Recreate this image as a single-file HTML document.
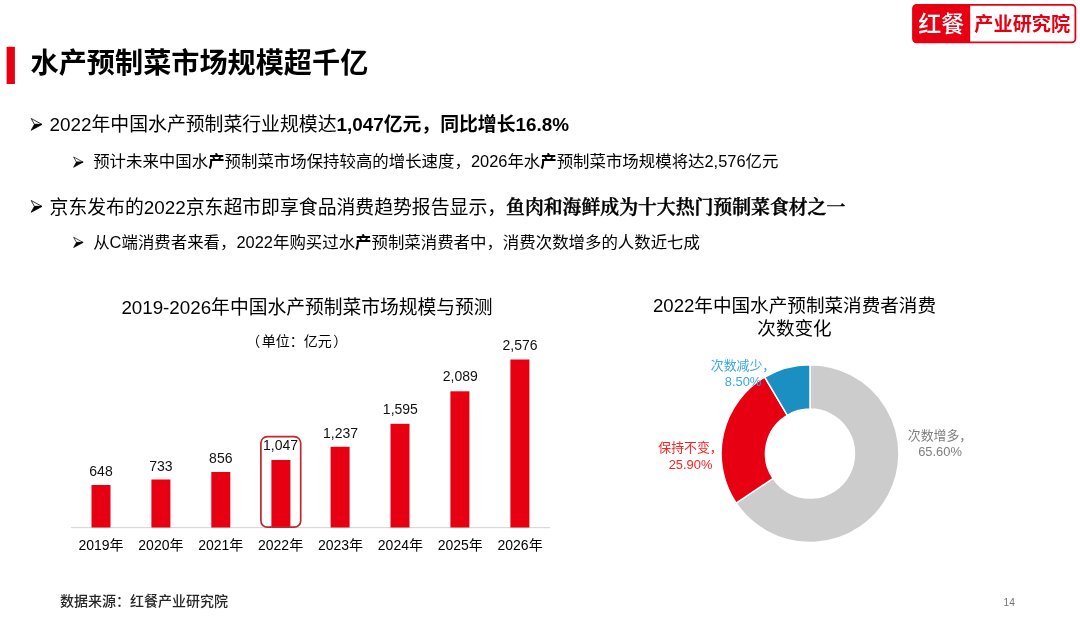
<!DOCTYPE html>
<html lang="zh-CN">
<head>
<meta charset="utf-8">
<title>水产预制菜市场规模超千亿</title>
<style>
html,body{margin:0;padding:0;background:#fff;}
body{width:1080px;height:623px;position:relative;overflow:hidden;font-family:"Liberation Sans","Noto Sans CJK SC",sans-serif;color:#000;}
.t{position:absolute;white-space:nowrap;line-height:1;}
.b{font-weight:bold;}
.serif{font-family:"Liberation Sans","Noto Serif CJK SC",serif;font-weight:600;-webkit-text-stroke:0.45px #000;}
#title{left:30.6px;top:49.5px;font-size:28.15px;font-weight:bold;}
.l1{font-size:18.85px;left:49.6px;}
.l2{font-size:16.43px;left:93.2px;}
.arr{position:absolute;}
.ct{font-size:18.85px;text-align:center;}
.vl{font-size:14px;text-align:center;width:60px;color:#111;}
.yl{font-size:14px;text-align:center;width:60px;top:538px;color:#000;}
.pl{font-size:12.9px;text-align:center;line-height:15.5px;}
</style>
</head>
<body>
<!-- logo -->
<svg class="arr" style="left:0;top:0" width="1080" height="623" viewBox="0 0 1080 623">
  <!-- logo box -->
  <rect x="913" y="4.9" width="162.4" height="37.5" rx="3.6" ry="3.6" fill="#fff" stroke="#e60012" stroke-width="1.8"/>
  <path d="M916.6 4.9 H970.2 V42.4 H916.6 a3.6 3.6 0 0 1 -3.6 -3.6 V8.5 a3.6 3.6 0 0 1 3.6 -3.6 Z" fill="#e60012"/>
  <!-- title bar -->
  <rect x="6.6" y="46.8" width="8.3" height="37.2" fill="#e60012"/>
  <!-- axis -->
  <rect x="71" y="527" width="479" height="1.2" fill="#d9d9d9"/>
  <!-- bars -->
  <g fill="#e60012">
    <rect x="91.5" y="485" width="19" height="42.5"/>
    <rect x="151.4" y="479.5" width="19" height="48"/>
    <rect x="211.3" y="472" width="19" height="55.5"/>
    <rect x="271.4" y="460" width="19" height="67.5"/>
    <rect x="330.6" y="446.8" width="19" height="80.7"/>
    <rect x="390.5" y="423.8" width="19" height="103.7"/>
    <rect x="450.4" y="391.3" width="19" height="136.2"/>
    <rect x="510.4" y="359.5" width="19" height="168"/>
  </g>
  <rect x="260.9" y="436.6" width="39.8" height="90.6" rx="6.5" ry="6.5" fill="none" stroke="#c1272d" stroke-width="1.7"/>
  <!-- bullet arrows -->
  <g transform="translate(30.8 118.1) scale(1)">
    <path d="M0.4 0.4 L11.2 6.3 L3.6 6.3 Z" fill="#fff" stroke="#000" stroke-width="0.8" stroke-linejoin="miter"/>
    <path d="M3.6 6.3 L11.2 6.3 L0.4 12.2 Z" fill="#000" stroke="#000" stroke-width="0.8" stroke-linejoin="miter"/>
  </g>
  <g transform="translate(30.8 200.1) scale(1)">
    <path d="M0.4 0.4 L11.2 6.3 L3.6 6.3 Z" fill="#fff" stroke="#000" stroke-width="0.8" stroke-linejoin="miter"/>
    <path d="M3.6 6.3 L11.2 6.3 L0.4 12.2 Z" fill="#000" stroke="#000" stroke-width="0.8" stroke-linejoin="miter"/>
  </g>
  <g transform="translate(73.3 156.6) scale(0.875)">
    <path d="M0.4 0.4 L11.2 6.3 L3.6 6.3 Z" fill="#fff" stroke="#000" stroke-width="0.8" stroke-linejoin="miter"/>
    <path d="M3.6 6.3 L11.2 6.3 L0.4 12.2 Z" fill="#000" stroke="#000" stroke-width="0.8" stroke-linejoin="miter"/>
  </g>
  <g transform="translate(73.3 236.9) scale(0.875)">
    <path d="M0.4 0.4 L11.2 6.3 L3.6 6.3 Z" fill="#fff" stroke="#000" stroke-width="0.8" stroke-linejoin="miter"/>
    <path d="M3.6 6.3 L11.2 6.3 L0.4 12.2 Z" fill="#000" stroke="#000" stroke-width="0.8" stroke-linejoin="miter"/>
  </g>
  <!-- donut -->
  <g id="donut">
    <path d="M810.00 364.65 A88.95 88.95 0 1 1 736.12 503.13 L773.04 478.38 A44.5 44.5 0 1 0 810.00 409.10 Z" fill="#cccccc" stroke="#fff" stroke-width="1.5" stroke-linejoin="round"/>
    <path d="M736.12 503.13 A88.95 88.95 0 0 1 764.72 377.04 L787.35 415.30 A44.5 44.5 0 0 0 773.04 478.38 Z" fill="#e60012" stroke="#fff" stroke-width="1.5" stroke-linejoin="round"/>
    <path d="M764.72 377.04 A88.95 88.95 0 0 1 810.00 364.65 L810.00 409.10 A44.5 44.5 0 0 0 787.35 415.30 Z" fill="#1b8ec2" stroke="#fff" stroke-width="1.5" stroke-linejoin="round"/>
  </g>
</svg>

<div class="t" id="logo1" style="left:918.3px;top:13.3px;font-size:23px;font-weight:500;color:#fff;">红餐</div>
<div class="t" id="logo2" style="left:974.3px;top:15px;font-size:19.2px;font-weight:bold;color:#e60012;">产业研究院</div>

<div class="t" id="title">水产预制菜市场规模超千亿</div>

<div class="t l1" id="b1" style="top:115.7px;">2022年中国水产预制菜行业规模达<span class="b">1,047亿元，同比增长16.8%</span></div>
<div class="t l2" id="s1" style="top:153.3px;">预计未来中国水<b>产</b>预制菜市场保持较高的增长速度，2026年水<b>产</b>预制菜市场规模将达2,576亿元</div>
<div class="t l1" id="b2" style="top:198.6px;">京东发布的2022京东超市即享食品消费趋势报告显示，<span class="serif">鱼肉和海鲜成为十大热门预制菜食材之一</span></div>
<div class="t l2" id="s2" style="top:234px;">从C端消费者来看，2022年购买过水<b>产</b>预制菜消费者中，消费次数增多的人数近七成</div>

<div class="t ct" id="ct1" style="left:107px;width:400px;top:298.8px;font-size:18.78px;">2019-2026年中国水产预制菜市场规模与预测</div>
<div class="t" id="unit" style="left:247.8px;top:334px;font-size:14px;"><span style="position:relative;left:-1.6px">（</span>单位：亿元<span style="position:relative;left:1.4px">）</span></div>

<div class="t vl" style="left:71px;top:464px;">648</div>
<div class="t vl" style="left:130.9px;top:458.5px;">733</div>
<div class="t vl" style="left:190.8px;top:451px;">856</div>
<div class="t vl" style="left:250.6px;top:437.6px;">1,047</div>
<div class="t vl" style="left:310.5px;top:425.8px;">1,237</div>
<div class="t vl" style="left:370.4px;top:401.8px;">1,595</div>
<div class="t vl" style="left:430.3px;top:369.3px;">2,089</div>
<div class="t vl" style="left:490.1px;top:337.5px;">2,576</div>

<div class="t yl" style="left:71px;">2019年</div>
<div class="t yl" style="left:130.9px;">2020年</div>
<div class="t yl" style="left:190.8px;">2021年</div>
<div class="t yl" style="left:250.6px;">2022年</div>
<div class="t yl" style="left:310.5px;">2023年</div>
<div class="t yl" style="left:370.4px;">2024年</div>
<div class="t yl" style="left:430.3px;">2025年</div>
<div class="t yl" style="left:490.1px;">2026年</div>

<div class="t ct" id="ct2" style="left:644.5px;width:300px;top:295.2px;line-height:22.5px;white-space:normal;font-size:18.6px;">2022年中国水产预制菜消费者消费<br>次数变化</div>

<div class="t pl" id="p1" style="left:703px;width:80px;top:358.1px;color:#3aa7e6;">次数减少，<br>8.50%</div>
<div class="t pl" id="p2" style="left:650.5px;width:80px;top:439.95px;line-height:16.8px;color:#ff2020;">保持不变，<br>25.90%</div>
<div class="t pl" id="p3" style="left:900px;width:80px;top:428px;color:#7f7f7f;">次数增多，<br>65.60%</div>

<div class="t" id="src" style="left:60px;top:594px;font-size:14px;color:#262626;font-weight:500;">数据来源：红餐产业研究院</div>
<div class="t" id="pg" style="left:1003.6px;top:597.6px;font-size:10.2px;color:#757575;">14</div>
</body>
</html>
